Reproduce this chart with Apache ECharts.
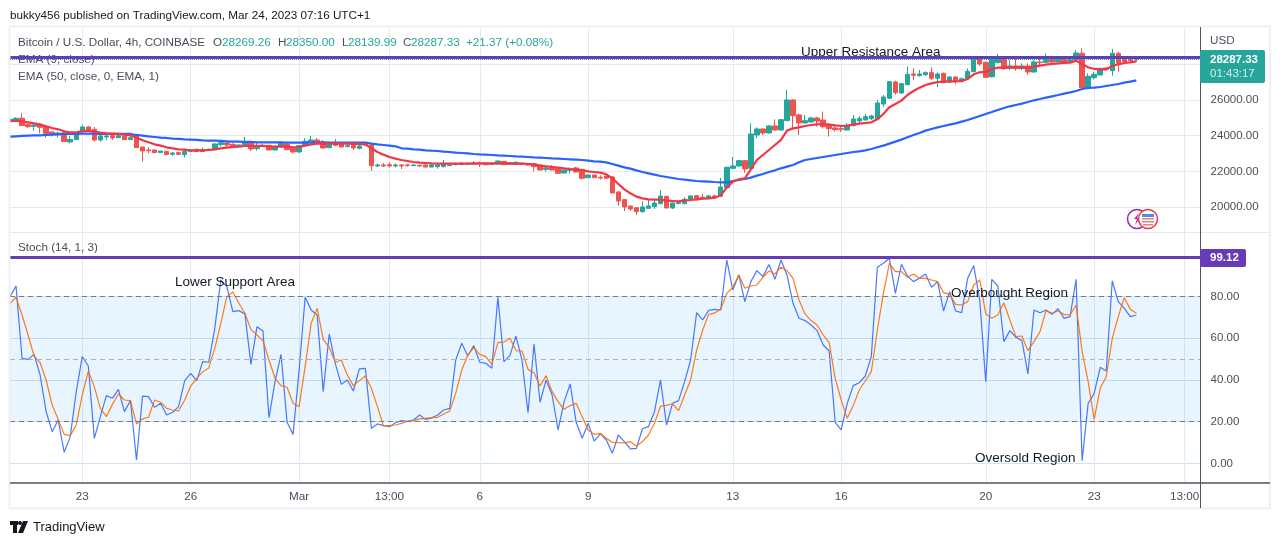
<!DOCTYPE html>
<html>
<head>
<meta charset="utf-8">
<title>BTCUSD 4h</title>
<script src="https://cdn.jsdelivr.net/npm/echarts@6/dist/echarts.min.js"></script>
<style>
html, body { margin: 0; padding: 0; background: #fff; }
#main { width: 1280px; height: 545px; }
</style>
</head>
<body>
<div id="main"></div>
<script>
// [open, close, low, high]
var candles = [
[24787,24918,24787,25105],[24862,24974,24825,25030],[24974,24563,24563,25272],[24619,24507,24433,24694],[24526,24601,24283,24657],
[24638,24470,24134,24694],[24507,24134,23892,24545],[24209,24060,23948,24209],[24078,24153,23892,24228],[24153,23668,23668,24228],
[23649,23798,23574,23985],[23780,24116,23761,24172],[24265,24489,24172,24601],[24489,24283,24246,24545],[24358,23761,23668,24489],
[23761,23985,23668,24134],[23929,23985,23761,24172],[24004,23873,23761,24134],[23892,24004,23873,24134],[23985,23780,23761,24078],
[23780,23892,23761,24041],[24041,23332,23313,24078],[23369,23145,22548,23369],[23201,23164,23015,23350],[23201,23052,23015,23238],
[23052,23145,23052,23145],[23127,22940,22921,23127],[22959,23033,22884,23089],[23052,22959,22921,23089],[22940,23127,22772,23276],
[23108,23201,23089,23238],[23238,23108,23089,23276],[23108,23220,23089,23332],[23182,23238,23145,23294],[23238,23537,23164,23574],
[23500,23612,23388,23761],[23593,23481,23388,23668],[23518,23388,23350,23574],[23425,23481,23388,23518],[23481,23668,23444,23929],
[23612,23257,23145,23668],[23276,23369,23164,23612],[23462,23406,23388,23537],[23462,23201,23182,23481],[23201,23388,23182,23444],
[23444,23574,23388,23668],[23537,23220,23182,23574],[23276,23089,23015,23350],[23089,23444,23052,23481],[23462,23686,23425,23854],
[23630,23761,23612,23985],[23761,23630,23612,23873],[23668,23313,23294,23761],[23332,23500,23294,23668],[23630,23462,23425,23817],
[23537,23369,23350,23612],[23388,23444,23350,23537],[23462,23313,23201,23537],[23294,23425,23238,23518],[23481,23518,23444,23574],
[23481,22324,22026,23518],[22306,22362,22250,22436],[22362,22306,22250,22473],[22380,22306,22212,22511],[22306,22362,22231,22455],
[22361,22305,22137,22417],[22361,22324,22268,22417],[22324,22361,22305,22398],[22342,22305,22268,22380],[22361,22249,22230,22398],
[22249,22361,22230,22398],[22268,22361,22156,22398],[22268,22436,22230,22641],[22324,22361,22305,22398],[22380,22417,22342,22492],
[22398,22454,22342,22529],[22417,22454,22361,22492],[22398,22454,22361,22585],[22454,22417,22249,22548],[22454,22380,22342,22492],
[22398,22454,22361,22492],[22417,22585,22398,22604],[22566,22380,22361,22585],[22398,22492,22361,22529],[22398,22510,22361,22566],
[22398,22454,22361,22492],[22436,22361,22324,22454],[22436,22268,21988,22454],[22361,22081,22062,22398],[22118,22193,21988,22268],
[22193,22081,22062,22361],[22156,21895,21857,22174],[21913,22081,21895,22118],[22062,22137,21876,22230],[22193,21969,21951,22249],
[22118,21615,21559,22156],[21652,21801,21633,21820],[21801,21652,21633,21820],[21671,21633,21540,21783],[21745,21615,21596,21839],
[21689,20794,20775,21745],[20850,20346,20066,20887],[20420,20010,19786,20439],[20066,19898,19786,20066],[19973,19749,19562,19991],
[19749,20010,19693,20327],[19935,20066,19898,20402],[20029,20234,19898,20439],[20197,20626,20159,20962],[20607,19954,19954,20626],
[19954,20234,19898,20253],[20197,20253,20178,20271],[20197,20439,20159,20551],[20439,20626,20402,20682],[20644,20495,20364,20663],
[20551,20495,20439,20738],[20514,20626,20439,20682],[20626,20514,20476,20700],[20607,21130,20588,21633],[21092,22230,21055,22268],
[22174,22305,22118,22809],[22305,22604,22268,22641],[22604,22137,21932,22641],[22174,24096,22156,24694],[24040,24376,23873,24470],
[24376,24152,24040,24414],[24152,24544,24115,24600],[24544,24320,24283,24917],[24320,24898,24264,24917],[24842,26000,24824,26559],
[26000,25122,24320,26037],[25160,24712,24040,25253],[24712,24842,24693,25160],[24768,24992,24730,25066],[24992,24824,24507,25066],
[24880,24507,24395,25346],[24619,24395,23947,24693],[24432,24339,24227,24544],[24395,24357,24208,24544],[24320,24563,24283,24693],
[24563,24936,24525,25160],[24824,24973,24693,25104],[24880,25066,24842,25216],[24954,25104,24880,25178],[24954,25831,24917,26000],
[25775,26167,25626,26279],[26093,27026,26037,27063],[27007,26410,26298,27082],[26391,26914,26335,26932],[26858,27436,26820,27865],
[27455,27380,27119,27772],[27362,27455,27306,27679],[27418,27530,27343,27604],[27530,27212,27119,27828],[27212,27455,26708,27530],
[27492,26970,26932,27530],[27007,27287,26932,27324],[27287,27044,26895,27306],[27044,27194,26970,27250],[27194,27604,27156,27772],
[27586,28351,27548,28369],[28351,28015,27903,28425],[28108,27268,27250,28145],[27306,28276,27250,28313],[28089,28332,28052,28574],
[28295,27753,27679,28313],[27772,27903,27679,28239],[27903,27753,27641,28332],[27753,27903,27679,28052],[27903,27567,27399,28052],
[27567,28127,27530,28239],[28127,28089,27865,28332],[28108,28276,28052,28612],[28257,28127,28089,28332],[28145,28276,28108,28388],
[28276,28108,28052,28425],[28164,28239,28127,28351],[28276,28630,28239,28798],[28612,26690,26652,28892],[26690,27324,26652,27492],
[27250,27436,27156,27586],[27399,27772,27399,27772],[27791,27716,27641,27828],[27641,28612,27362,28854],[28612,28052,27586,28705],
[28332,28145,28052,28425],[28276,28201,28108,28332],[28269,28287,28140,28350]
];
var ema9 = [
24825,24825,24806,24750,24694,24619,24526,24433,24358,24246,24190,24190,24246,24283,24228,24172,24134,24116,24097,24060,24022,
23892,23742,23630,23518,23444,23350,23294,23238,23220,23182,23182,23182,23201,23238,23294,23332,23369,23388,23425,23425,23425,
23425,23406,23388,23406,23388,23350,23369,23444,23518,23556,23556,23556,23574,23556,23556,23537,23537,23518,23294,23089,22940,
22809,22716,22641,22585,22529,22492,22473,22454,22436,22436,22436,22436,22436,22436,22454,22454,22454,22454,22454,22454,22436,
22436,22436,22417,22380,22324,22286,22249,22212,22174,22137,22118,22062,22005,21969,21932,21839,21615,21297,20999,20775,20588,
20495,20439,20420,20420,20364,20346,20327,20383,20402,20439,20476,20495,20532,20663,21092,21428,21559,21615,22118,22641,22921,
23201,23481,23761,24283,24413,24469,24544,24600,24637,24656,24619,24581,24544,24563,24619,24675,24712,24749,24917,25216,25589,
25775,25962,26279,26503,26690,26839,26932,27007,27026,27044,27044,27063,27175,27436,27548,27567,27716,27809,27809,27828,27828,
27828,27791,27865,27921,27977,28015,28052,28071,28089,28201,27996,27828,27735,27716,27716,27903,27996,28071,28108,28164
];
var ema50 = [
23948,23966,23985,24004,24022,24022,24041,24060,24078,24097,24097,24097,24116,24116,24116,24097,24097,24097,24097,24097,24097,
24041,24004,23966,23929,23892,23873,23836,23817,23798,23780,23761,23742,23724,23724,23705,23686,23668,23668,23649,23649,23630,
23630,23630,23630,23630,23612,23612,23612,23612,23612,23612,23612,23612,23612,23612,23612,23612,23612,23612,23556,23518,23481,
23444,23406,23294,23275,23238,23219,23182,23163,23145,23108,23089,23052,23033,23014,22977,22958,22940,22921,22902,22884,22865,
22846,22828,22809,22790,22772,22753,22734,22716,22697,22678,22660,22641,22604,22566,22548,22510,22417,22324,22230,22156,22062,
21969,21895,21820,21745,21689,21633,21577,21540,21503,21465,21447,21428,21409,21391,21391,21465,21521,21577,21652,21764,21857,
21969,22062,22174,22268,22361,22510,22641,22697,22753,22809,22865,22921,22976,23032,23088,23126,23182,23256,23350,23443,23555,
23667,23779,23909,24040,24152,24283,24376,24469,24544,24619,24693,24787,24880,24992,25104,25216,25327,25440,25552,25645,25720,
25794,25887,25981,26055,26130,26205,26279,26354,26428,26503,26615,26671,26690,26727,26783,26839,26895,26970,27026,27100
];
var stochK = [
80.0,85.1,50.4,49.9,52.3,42.4,24.8,15.2,20.8,5.3,12.8,34.4,51.2,46.7,12.0,22.4,32.5,31.2,35.5,24.8,30.1,1.6,32.3,32.0,26.9,28.8,
23.2,24.5,27.2,39.7,43.2,39.7,48.8,48.5,64.8,88.0,84.8,72.8,73.3,71.7,47.5,65.6,63.5,21.9,39.2,52.3,19.7,13.9,44.8,79.7,73.6,71.2,
34.4,62.1,48.0,37.9,40.0,34.7,45.3,45.6,16.8,18.9,18.1,17.6,19.5,20.5,20.2,20.8,23.2,21.1,21.8,23.2,25.6,26.4,49.6,57.6,51.5,56.5,
48.5,48.0,45.6,79.7,48.8,51.7,61.1,49.6,24.3,57.3,29.3,40.0,32.8,16.0,29.6,38.1,19.7,12.0,19.2,10.6,14.1,11.2,4.8,13.6,10.4,6.9,7.2,
16.6,17.6,24.8,40.0,18.4,28.8,30.1,39.2,49.6,72.3,68.8,73.4,73.9,73.6,97.6,83.2,90.4,77.6,87.2,92.5,89.6,95.4,88.3,97.6,90.4,76.8,69.6,
68.5,66.4,63.7,56.8,53.9,19.7,16.0,28.8,37.3,38.7,41.9,51.2,94.1,96.0,98.4,81.6,95.5,89.9,87.2,88.8,90.9,84.5,87.2,73.1,82.4,73.1,
72.3,88.8,94.9,78.4,39.2,88.3,85.1,58.4,63.7,60.5,58.9,42.9,73.6,72.3,73.6,71.5,74.2,69.6,70.4,88.3,1.3,28.8,33.6,46.1,44.3,87.5,
77.6,74.4,70.4,71.2
];
var stochD = [
76.8,79.7,71.2,61.6,51.5,48.3,40.0,28.0,21.1,13.9,13.3,18.4,32.8,44.3,36.8,26.4,22.4,28.3,33.3,30.4,30.1,18.9,21.3,22.1,30.4,29.3,
26.4,25.6,25.1,30.4,37.1,40.8,44.0,45.8,55.2,67.2,80.0,82.2,76.8,72.0,64.3,61.6,58.9,49.6,40.8,37.3,36.5,28.8,27.2,46.4,67.2,74.4,
59.5,55.7,48.5,49.6,42.4,37.3,39.7,41.9,36.0,27.2,18.1,18.1,18.4,19.2,20.2,20.5,21.3,21.6,21.9,22.1,23.7,25.1,33.6,44.8,52.0,55.5,
52.3,51.2,47.5,57.9,58.2,60.0,54.1,53.9,45.1,43.5,37.1,42.1,34.4,29.6,25.9,27.7,28.8,22.4,16.0,13.9,14.4,12.0,10.1,9.9,9.8,10.4,8.3,
10.4,13.6,19.2,27.5,27.8,28.6,25.3,32.8,40.0,54.4,64.0,71.5,72.2,73.9,81.6,84.5,90.4,84.0,85.1,85.6,89.3,92.3,90.9,94.1,92.5,88.8,78.4,
71.7,68.5,66.4,61.6,57.9,40.8,30.4,21.6,27.7,35.2,39.5,44.0,64.0,81.6,96.0,92.0,92.0,89.3,90.9,88.8,88.8,88.0,87.2,81.9,81.1,76.3,
76.0,77.6,85.6,88.0,71.7,69.6,71.2,77.1,68.8,60.8,61.1,54.1,58.4,63.2,73.3,72.0,73.1,71.5,71.2,76.0,53.6,39.2,21.1,36.0,41.6,60.0,
70.4,79.5,73.9,72.0
];
var tickIdx = [12, 30, 48, 63, 78, 96, 120, 138, 162, 180, 195];
var tickLabels = ['23', '26', 'Mar', '13:00', '6', '9', '13', '16', '20', '23', '13:00'];
var barSlots = 199;
var resistanceLevel = 28407, lastClose = 28287.33, stochLevel = 99.12;

var categories = [];
for (var i = 0; i < barSlots; i++) {
    var t = tickIdx.indexOf(i);
    categories.push(t >= 0 ? tickLabels[t] : '');
}
function isTick(idx) { return tickIdx.indexOf(idx) >= 0; }

var FONT = 'Liberation Sans';
var TEXT = '#4a4e59', GRID = '#e3ebf2', FRAME = '#eef0f6', AXIS = '#50535e';
var UP = '#26a69a', DOWN = '#ef5350';
var SMALL = 11.7, NOTE = 13.5;

function label(x, y, text, color, size, z, weight) {
    return {
        type: 'text', x: x, y: y, z: z || 20, silent: true,
        style: { text: text, fill: color || TEXT, font: (weight || 'normal') + ' ' + (size || SMALL) + 'px "' + FONT + '"', verticalAlign: 'middle' }
    };
}
function rule(x1, y1, x2, y2, color, width, z) {
    return { type: 'line', z: z || 12, silent: true, shape: { x1: x1, y1: y1, x2: x2, y2: y2 }, style: { stroke: color, lineWidth: width || 1 } };
}
function box(x, y, w, h, fill, z, r) {
    return { type: 'rect', z: z || 12, silent: true, shape: { x: x, y: y, width: w, height: h, r: r || 0 }, style: { fill: fill } };
}
function circle(cx, cy, r, fill, stroke, w, z) {
    return { type: 'circle', z: z, silent: true, shape: { cx: cx, cy: cy, r: r }, style: { fill: fill, stroke: stroke, lineWidth: w } };
}

var graphics = [
    // frame and scale dividers
    box(1200.5, 27, 4, 481, '#fff', 10),
    box(0, 27, 9.5, 481, '#fff', 10),
    rule(9.5, 27, 9.5, 508, FRAME, 2),
    rule(9, 26.5, 1270, 26.5, FRAME, 2),
    rule(1270, 26, 1270, 509, FRAME, 2),
    rule(9, 508.5, 1270, 508.5, FRAME, 2),
    rule(10, 232.5, 1270, 232.5, GRID, 1),
    rule(10, 483, 1270, 483, AXIS, 1.5),
    rule(1200.5, 27, 1200.5, 508, AXIS, 1),
    // price tags
    box(1200, 50, 65, 33, UP, 13, 2),
    label(1210, 60, '28287.33', '#fff', 11.5, 14, 'bold'),
    label(1210, 74, '01:43:17', '#d5f0ec', 11.5, 14),
    box(1200, 249, 46, 18, '#673ab7', 13, 2),
    label(1210, 258, '99.12', '#fff', 11.5, 14, 'bold'),
    label(1210, 41, 'USD', TEXT, SMALL),
    // captions
    label(10, 15.5, 'bukky456 published on TradingView.com, Mar 24, 2023 07:16 UTC+1', '#131722', SMALL),
    label(18, 42.5, 'Bitcoin / U.S. Dollar, 4h, COINBASE', TEXT, SMALL),
    label(213, 42.5, 'O', TEXT, SMALL), label(222, 42.5, '28269.26', UP, SMALL),
    label(278, 42.5, 'H', TEXT, SMALL), label(286, 42.5, '28350.00', UP, SMALL),
    label(342, 42.5, 'L', TEXT, SMALL), label(348, 42.5, '28139.99', UP, SMALL),
    label(403, 42.5, 'C', TEXT, SMALL), label(411, 42.5, '28287.33', UP, SMALL),
    label(466, 42.5, '+21.37 (+0.08%)', UP, SMALL),
    label(18, 59.5, 'EMA (9, close)', TEXT, SMALL, 1),
    label(18, 76.5, 'EMA (50, close, 0, EMA, 1)', TEXT, SMALL),
    label(18, 247.5, 'Stoch (14, 1, 3)', TEXT, SMALL),
    // drawings on the chart
    label(801, 52.5, 'Upper Resistance Area', '#131722', NOTE, 1),
    label(175, 282.5, 'Lower Support Area', '#131722', NOTE),
    label(951, 293.5, 'Overbought Region', '#131722', NOTE),
    label(975, 458.5, 'Oversold Region', '#131722', NOTE),
    // event badges
    circle(1137, 219, 9.5, '#fff', '#9c27b0', 1.5, 15),
    { type: 'polygon', z: 15, silent: true, shape: { points: [[1134, 219], [1139, 213], [1137, 218], [1140, 218], [1135, 225], [1137, 219]] }, style: { fill: '#9c27b0' } },
    circle(1148, 219, 9.5, '#fff', '#f23645', 1.5, 16),
    box(1142, 218, 12, 1.5, '#ef7d84', 17),
    box(1142, 221, 12, 1.5, '#ef7d84', 17),
    box(1143, 224, 10, 1.5, '#ef7d84', 17),
    box(1142, 214, 12, 3, '#4a90e2', 18),
    // footer logo
    box(10, 521, 8, 4, '#131722', 20),
    box(13, 521, 4, 12, '#131722', 20),
    circle(20, 523, 2, '#131722', '#131722', 0, 20),
    { type: 'polygon', z: 20, silent: true, shape: { points: [[23, 521], [28, 521], [23, 533], [18, 533]] }, style: { fill: '#131722' } },
    label(33, 527.5, 'TradingView', '#131722', 13)
];

var chart = echarts.init(document.getElementById('main'), null, { renderer: 'canvas' });
chart.setOption({
    animation: false,
    backgroundColor: '#fff',
    textStyle: { fontFamily: FONT },
    grid: [
        { left: 10, top: 28.5, width: 1192.6, height: 214.4 },
        { left: 10, top: 213.3, width: 1192.6, height: 291.7 },
        { left: 10, top: 233, width: 1192.6, height: 250 }
    ],
    xAxis: [
        { type: 'category', gridIndex: 0, data: categories, boundaryGap: false, axisLine: { show: false }, axisTick: { show: false }, axisLabel: { show: false },
          splitLine: { show: true, interval: isTick, lineStyle: { color: GRID } } },
        { type: 'category', gridIndex: 1, data: categories, boundaryGap: false, axisLine: { show: false }, axisTick: { show: false }, axisLabel: { show: false }, splitLine: { show: false } },
        { type: 'category', gridIndex: 2, data: categories, boundaryGap: false, axisLine: { show: false }, axisTick: { show: false },
          axisLabel: { interval: isTick, color: TEXT, fontSize: 11.7, margin: 8, fontFamily: FONT, hideOverlap: false },
          splitLine: { show: true, interval: isTick, lineStyle: { color: GRID } } }
    ],
    yAxis: [
        { type: 'value', gridIndex: 0, position: 'right', min: 18000, max: 30000, interval: 2000, scale: true,
          axisLine: { show: false }, axisTick: { show: false },
          axisLabel: { color: TEXT, fontSize: 11.5, margin: 8, padding: [2, 0, 0, 0], showMinLabel: false, showMaxLabel: false, fontFamily: FONT,
              formatter: function(v) { return v === 28000 ? '' : v.toFixed(2); } },
          splitLine: { show: true, showMinLine: false, showMaxLine: false, lineStyle: { color: GRID } } },
        { type: 'value', gridIndex: 1, position: 'right', min: -20, max: 120, interval: 20,
          axisLine: { show: false }, axisTick: { show: false },
          axisLabel: { color: TEXT, fontSize: 11.5, margin: 8, padding: [2, 0, 0, 0], showMinLabel: false, showMaxLabel: false, fontFamily: FONT,
              formatter: function(v) { return v === 100 ? '' : v.toFixed(2); } },
          splitLine: { show: true, showMinLine: false, showMaxLine: false,
              lineStyle: { color: ['#cfe3f2', '#cfe3f2', '#cfe3f2', '#cfe3f2', '#cfe3f2', 'rgba(0,0,0,0)'] } } },
        { type: 'value', gridIndex: 2, show: false, min: 0, max: 100 }
    ],
    series: [
        {
            name: 'BTCUSD', type: 'candlestick', xAxisIndex: 0, yAxisIndex: 0, data: candles, barWidth: 5,
            itemStyle: { color: UP, color0: DOWN, borderColor: UP, borderColor0: DOWN, borderWidth: 1 },
            markLine: { silent: true, symbol: 'none', label: { show: false }, animation: false, data: [
                { yAxis: lastClose, lineStyle: { color: UP, type: 'dotted', width: 1 } },
                { yAxis: resistanceLevel, lineStyle: { color: '#673ab7', type: 'solid', width: 3 } }
            ] }
        },
        { name: 'EMA 50', type: 'line', xAxisIndex: 0, yAxisIndex: 0, data: ema50, showSymbol: false, lineStyle: { color: '#2962ff', width: 2.2 } },
        { name: 'EMA 9', type: 'line', xAxisIndex: 0, yAxisIndex: 0, data: ema9, showSymbol: false, lineStyle: { color: '#f23645', width: 2.2 } },
        {
            name: '%K', type: 'line', xAxisIndex: 1, yAxisIndex: 1, data: stochK, showSymbol: false, lineStyle: { color: '#2962ff', width: 1.2, opacity: 0.85 },
            markArea: { silent: true, itemStyle: { color: 'rgba(33,150,243,0.1)' }, data: [[{ yAxis: 20 }, { yAxis: 80 }]] },
            markLine: { silent: true, symbol: 'none', label: { show: false }, animation: false, data: [
                { yAxis: 80, lineStyle: { color: '#787b86', type: [5, 4], width: 1 } },
                { yAxis: 50, lineStyle: { color: '#aeb1ba', type: [5, 4], width: 1 } },
                { yAxis: 20, lineStyle: { color: '#787b86', type: [5, 4], width: 1 } },
                { yAxis: stochLevel, lineStyle: { color: '#673ab7', type: 'solid', width: 3 } }
            ] }
        },
        { name: '%D', type: 'line', xAxisIndex: 1, yAxisIndex: 1, data: stochD, showSymbol: false, lineStyle: { color: '#ff6d00', width: 1.2, opacity: 0.9 } }
    ],
    graphic: graphics
});
</script>
</body>
</html>
